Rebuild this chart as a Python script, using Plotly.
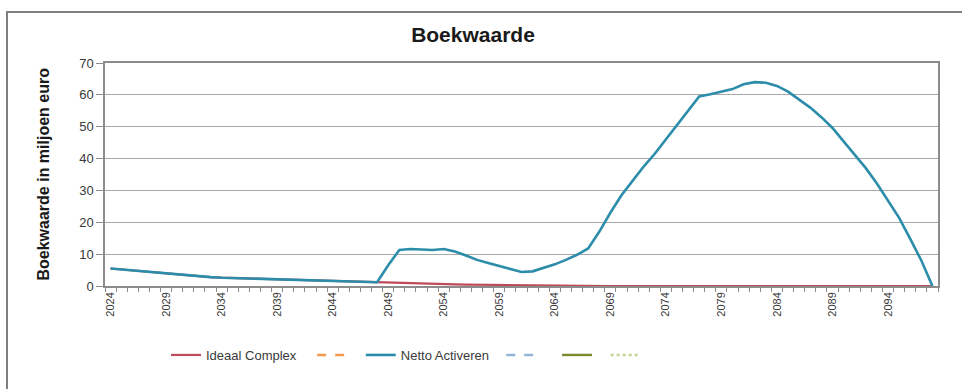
import plotly.graph_objects as go

# Years on the category axis
years = list(range(2024, 2099))

# Book value, scenario "Netto Activeren" (million euro)
netto_activeren = [
    5.5, 5.2, 4.8, 4.5, 4.1, 3.8, 3.5, 3.2, 3.0, 2.8,
    2.6, 2.5, 2.3, 2.2, 2.0, 1.9, 1.8, 1.7, 1.6, 1.5,
    1.4, 1.3, 1.2, 1.1, 1.2, 6.5, 11.3, 11.6, 11.4, 11.3,
    11.6, 10.8, 9.6, 8.2, 7.2, 6.3, 5.3, 4.4, 4.6, 5.6,
    6.8, 8.2, 9.8, 11.8, 17.0, 23.0, 28.5, 33.0, 37.5, 41.5,
    46.0, 50.5, 55.0, 59.5, 60.2, 61.0, 61.8, 63.3, 64.0, 63.8,
    62.8, 61.0, 58.5, 56.0, 53.0, 49.6, 45.4, 41.3, 37.0, 32.2,
    27.0, 21.4, 14.8, 8.0, 0.0,
]

# Book value, scenario "Ideaal Complex" (million euro)
ideaal_complex = [
    5.5, 5.2, 4.8, 4.5, 4.1, 3.8, 3.5, 3.2, 3.0, 2.8,
    2.6, 2.5, 2.3, 2.2, 2.0, 1.9, 1.8, 1.7, 1.6, 1.5,
    1.4, 1.3, 1.2, 1.1, 1.0, 0.9, 0.85, 0.8, 0.7, 0.65,
    0.6, 0.5, 0.45, 0.4, 0.35, 0.3, 0.25, 0.2, 0.15, 0.1,
    0.05, 0.0, 0.0, 0.0, 0.0, 0.0, 0.0, 0.0, 0.0, 0.0,
    0.0, 0.0, 0.0, 0.0, 0.0, 0.0, 0.0, 0.0, 0.0, 0.0,
    0.0, 0.0, 0.0, 0.0, 0.0, 0.0, 0.0, 0.0, 0.0, 0.0,
    0.0, 0.0, 0.0, 0.0, 0.0,
]

# Labelled years and y gridlines
x_tick_years = list(range(2024, 2095, 5))
y_ticks = list(range(0, 71, 10))

RED = "#BE4B5A"
BLUE = "#2C8DAA"
GRID = "#A8A8A8"
AXIS = "#8C8C8C"
TEXT = "#3A3A3A"
NB = "\u00a0"

fig = go.Figure()

fig.add_trace(go.Scatter(
    x=years, y=ideaal_complex, name="Ideaal Complex" + NB * 3, mode="lines",
    line=dict(color=RED, width=2.2),
))
# Series without data, only listed in the legend
fig.add_trace(go.Scatter(
    x=[None], y=[None], name=NB, mode="lines",
    line=dict(color="#F39A4C", width=2.4, dash="dash"),
))
fig.add_trace(go.Scatter(
    x=years, y=netto_activeren, name="Netto Activeren" + NB * 2, mode="lines",
    line=dict(color=BLUE, width=2.6),
))
fig.add_trace(go.Scatter(
    x=[None], y=[None], name=NB * 3, mode="lines",
    line=dict(color="#93B4D6", width=2.4, dash="dash"),
))
fig.add_trace(go.Scatter(
    x=[None], y=[None], name=NB, mode="lines",
    line=dict(color="#7A8A2E", width=2.4),
))
fig.add_trace(go.Scatter(
    x=[None], y=[None], name=NB, mode="lines",
    line=dict(color="#BCD592", width=2.4, dash="dot"),
))

L, R, T, B = 105, 24, 63, 103
W, H = 962, 389
pw, ph = W - L - R, H - T - B

fig.update_layout(
    width=W, height=H,
    margin=dict(l=L, r=R, t=T, b=B, pad=0),
    paper_bgcolor="white", plot_bgcolor="white",
    font=dict(family="Liberation Sans, Arial, sans-serif", color=TEXT, size=11),
    title=dict(
        text="<b>Boekwaarde</b>", x=473 / W, xref="container", xanchor="center",
        y=1 - 35 / H, yref="container", yanchor="middle",
        font=dict(size=21, color="#1A1A1A"),
    ),
    showlegend=True,
    legend=dict(
        orientation="h", x=(166 - L) / pw, xanchor="left",
        y=-(355 - T - ph) / ph, yanchor="middle",
        font=dict(size=13, color=TEXT), bgcolor="rgba(0,0,0,0)",
        itemwidth=30, tracegroupgap=0,
    ),
    xaxis=dict(
        range=[2023.5, 2098.5], tickmode="array", tickvals=x_tick_years,
        ticktext=[str(v) for v in x_tick_years], tickangle=-90,
        tickfont=dict(size=11, color=TEXT), ticks="", showgrid=False,
        showline=True, linecolor=AXIS, linewidth=1.5, mirror=True,
        zeroline=False,
        minor=dict(tickvals=[y + 0.5 for y in range(2023, 2099)],
                   ticks="outside", ticklen=4, tickcolor=AXIS, showgrid=False),
    ),
    yaxis=dict(
        range=[0, 70], tickmode="array", tickvals=y_ticks,
        tickfont=dict(size=13, color=TEXT), ticks="outside", ticklen=7,
        tickcolor=AXIS, showgrid=True, gridcolor=GRID, gridwidth=1.3,
        showline=True, linecolor=AXIS, linewidth=1.5, mirror=True,
        zeroline=False,
    ),
)

# Y axis caption
fig.add_annotation(
    text="<b>Boekwaarde in miljoen euro</b>", textangle=-90,
    xref="paper", yref="paper", x=(43 - L) / pw, y=0.5,
    xanchor="center", yanchor="middle", showarrow=False,
    font=dict(size=16, color="#1A1A1A"),
)

# Outer chart frame
fig.add_shape(
    type="rect", xref="paper", yref="paper",
    x0=(7 - L) / pw, x1=(966 - L) / pw,
    y0=-(393 - T - ph) / ph, y1=1 + (T - 12) / ph,
    line=dict(color="#7F7F7F", width=2), fillcolor="rgba(0,0,0,0)",
    layer="below",
)

fig.write_html("out.html")
